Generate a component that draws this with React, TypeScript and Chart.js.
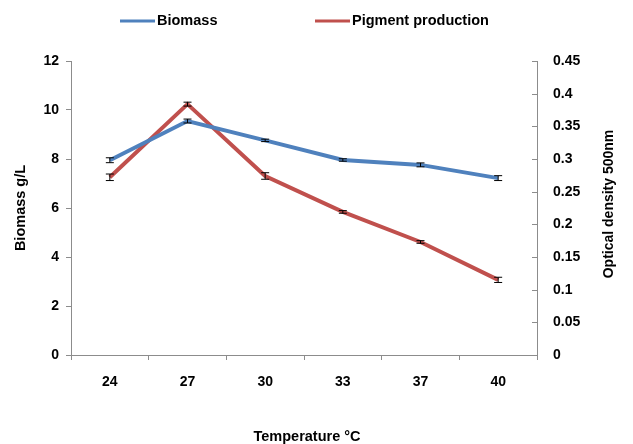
import React, { useEffect, useRef } from "react";
import { Chart, registerables } from "chart.js";

Chart.register(...registerables);

const categories = ["24", "27", "30", "33", "37", "40"];
const biomass = [7.95, 9.55, 8.76, 7.96, 7.76, 7.22];
const biomassErr = [0.1, 0.08, 0.05, 0.05, 0.08, 0.1];
const pigment = [0.272, 0.384, 0.274, 0.219, 0.173, 0.115];
const pigmentErr = [0.005, 0.003, 0.005, 0.002, 0.002, 0.004];
const leftTicksMax = 12;
const rightTicksMax = 0.45;
const xTitle = "Temperature °C";
const rightTitle = "Optical density 500nm";

const BLUE = "#4F81BD";
const RED = "#C0504D";
const AXIS = "#8C8C8C";
const FONT = "'Liberation Sans', Arial, sans-serif";

const errorBarPlugin = {
  id: "errorBars",
  afterDatasetsDraw(chart: any) {
    const ctx = chart.ctx;
    const errs = [biomassErr, pigmentErr];
    chart.data.datasets.forEach((ds: any, i: number) => {
      const meta = chart.getDatasetMeta(i);
      const scale = chart.scales[ds.yAxisID];
      ctx.save();
      ctx.strokeStyle = "#000";
      ctx.lineWidth = 1;
      meta.data.forEach((pt: any, j: number) => {
        const v = ds.data[j];
        const e = errs[i][j];
        const x = pt.x;
        const y1 = scale.getPixelForValue(v + e);
        const y2 = scale.getPixelForValue(v - e);
        ctx.beginPath();
        ctx.moveTo(x, y1);
        ctx.lineTo(x, y2);
        ctx.moveTo(x - 4, y1);
        ctx.lineTo(x + 4, y1);
        ctx.moveTo(x - 4, y2);
        ctx.lineTo(x + 4, y2);
        ctx.stroke();
      });
      ctx.restore();
    });
  },
};

const extrasPlugin = {
  id: "extras",
  afterDraw(chart: any) {
    const ctx = chart.ctx;
    const y1 = chart.scales.y1;
    ctx.save();
    ctx.strokeStyle = AXIS;
    ctx.lineWidth = 1;
    y1.ticks.forEach((t: any) => {
      const y = Math.round(y1.getPixelForValue(t.value)) + 0.5;
      ctx.beginPath();
      ctx.moveTo(y1.left - 5, y);
      ctx.lineTo(y1.left, y);
      ctx.stroke();
    });
    ctx.font = `bold 14.5px ${FONT}`;
    ctx.fillStyle = "#000";
    ctx.textBaseline = "middle";
    ctx.textAlign = "center";
    // x title
    ctx.fillText(xTitle, 307, 437);
    // right title, reading bottom-to-top
    ctx.save();
    ctx.translate(609, 204);
    ctx.rotate(-Math.PI / 2);
    ctx.font = `bold 14px ${FONT}`;
    ctx.fillText(rightTitle, 0, 0);
    ctx.restore();
    // legend
    const items = [
      { label: "Biomass", color: BLUE, x: 120 },
      { label: "Pigment production", color: RED, x: 315 },
    ];
    ctx.textAlign = "left";
    items.forEach((it) => {
      ctx.strokeStyle = it.color;
      ctx.lineWidth = 3;
      ctx.beginPath();
      ctx.moveTo(it.x, 21);
      ctx.lineTo(it.x + 35, 21);
      ctx.stroke();
      ctx.fillStyle = "#000";
      ctx.fillText(it.label, it.x + 37, 21);
    });
    ctx.restore();
  },
};

export default function App() {
  const ref = useRef<HTMLCanvasElement | null>(null);
  useEffect(() => {
    if (!ref.current) return;
    const tickFont = { family: FONT, size: 14, weight: "bold" as const };
    const titleFont = { family: FONT, size: 14.5, weight: "bold" as const };
    const chart = new Chart(ref.current, {
      type: "line",
      data: {
        labels: categories,
        datasets: [
          {
            label: "Biomass",
            data: biomass,
            borderColor: BLUE,
            backgroundColor: BLUE,
            borderWidth: 4,
            pointRadius: 0,
            tension: 0,
            yAxisID: "y",
          },
          {
            label: "Pigment production",
            data: pigment,
            borderColor: RED,
            backgroundColor: RED,
            borderWidth: 4,
            pointRadius: 0,
            tension: 0,
            yAxisID: "y1",
          },
        ],
      },
      options: {
        responsive: false,
        animation: false,
        layout: { padding: { top: 61, left: 0, right: 0, bottom: 0 } },
        plugins: { legend: { display: false }, tooltip: { enabled: false } },
        scales: {
          x: {
            type: "category",
            offset: true,
            grid: {
              offset: true,
              drawOnChartArea: false,
              drawTicks: true,
              tickLength: 5,
              color: AXIS,
            },
            border: { display: true, color: AXIS },
            ticks: { font: tickFont, color: "#000", padding: 14 },
            afterFit: (s: any) => {
              s.height = 89;
            },
          },
          y: {
            position: "left",
            min: 0,
            max: leftTicksMax,
            ticks: { stepSize: 2, font: tickFont, color: "#000", padding: 7 },
            grid: {
              drawOnChartArea: false,
              drawTicks: true,
              tickLength: 5,
              color: AXIS,
            },
            border: { display: true, color: AXIS },
            title: {
              display: true,
              text: "Biomass g/L",
              font: titleFont,
              color: "#000",
              padding: { top: 12, bottom: 0 },
            },
            afterFit: (s: any) => {
              s.width = 71;
            },
          },
          y1: {
            position: "right",
            min: 0,
            max: rightTicksMax,
            ticks: {
              stepSize: 0.05,
              font: tickFont,
              color: "#000",
              padding: 16,
              callback: (v: any) => String(Number(Number(v).toFixed(2))),
            },
            grid: { drawOnChartArea: false, drawTicks: false, color: AXIS },
            border: { display: true, color: AXIS },
            afterFit: (s: any) => {
              s.width = 96;
            },
          },
        },
      },
      plugins: [errorBarPlugin, extrasPlugin],
    });
    return () => chart.destroy();
  }, []);
  return (
    <div style={{ position: "absolute", left: 0, top: 0, width: 633, height: 444, background: "#fff" }}>
      <canvas ref={ref} width={633} height={444} />
    </div>
  );
}
